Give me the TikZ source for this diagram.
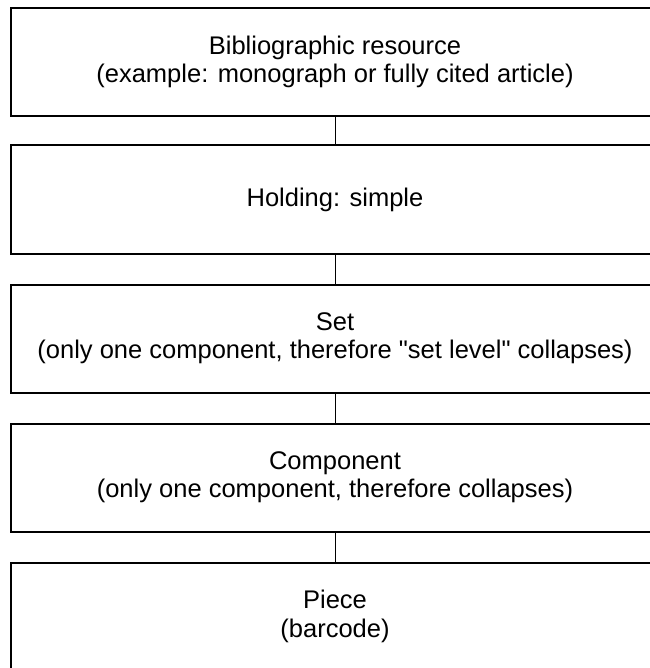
\documentclass[tikz,border=0pt]{standalone}
\usepackage{fontspec}
\setmainfont{Liberation Sans}
\begin{document}
\begin{tikzpicture}[x=1bp,y=-1bp,
  level/.style={draw=black, line width=2bp, minimum width=647bp, minimum height=108bp,
    align=center, inner sep=0pt, font=\fontsize{25.6}{28.5}\selectfont},
  link/.style={draw=black, line width=1bp}]
  \useasboundingbox (0,0) rectangle (650,668);
  \clip (0,0) rectangle (650,668);
  \node[level] (bib) at (335,62) {Bibliographic resource\\(example: monograph or fully cited article)};
  \node[level] (hold) at (335,199.5) {Holding: simple};
  \node[level] (set) at (335,338.5) {Set\\(only one component, therefore \textquotedbl set level\textquotedbl\ collapses)};
  \node[level] (comp) at (335,477.5) {Component\\(only one component, therefore collapses)};
  \node[level] (piece) at (335,616.5) {Piece\\(barcode)};
  \draw[link] (bib) -- (hold);
  \draw[link] (hold) -- (set);
  \draw[link] (set) -- (comp);
  \draw[link] (comp) -- (piece);
\end{tikzpicture}
\end{document}
